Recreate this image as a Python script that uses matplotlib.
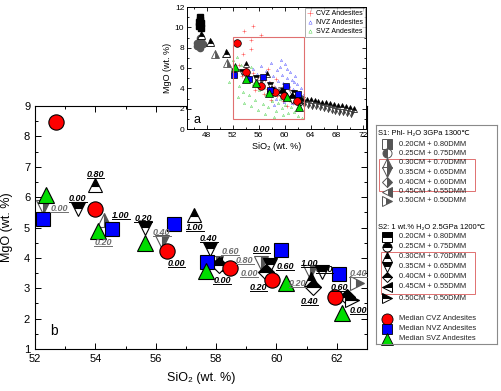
import matplotlib
matplotlib.use('Agg')
import matplotlib.pyplot as plt
from matplotlib.lines import Line2D
from matplotlib.patches import Rectangle
from matplotlib.ticker import MultipleLocator

plt.rcParams['font.family'] = ['Liberation Sans', 'DejaVu Sans']

# ---------------- data ----------------
# median andesites (SiO2, MgO)
cvz_med_x = [52.7, 54.0, 56.37, 58.46, 59.85, 61.93]
cvz_med_y = [8.47, 5.62, 4.22, 3.66, 3.26, 2.71]
nvz_med_x = [52.25, 54.55, 56.6, 57.7, 60.15, 62.07]
nvz_med_y = [5.28, 4.95, 5.11, 3.86, 4.26, 3.47]
svz_med_x = [52.37, 54.1, 55.64, 57.66, 60.3, 62.17]
svz_med_y = [6.07, 4.9, 4.49, 3.57, 3.16, 2.18]

# experiments S1 (Phl-H2O 3GPa 1300C) and S2 (1 wt.% H2O 2.5GPa 1200C)
s1_x = [52.27, 54.3, 56.2, 58.0, 59.5, 61.1, 62.67]
s1_y = [5.67, 5.24, 4.52, 3.83, 3.83, 3.55, 3.17]
s1_mk = ['v', '^', 'v', 'v', 'v', 'v', '>']

s2_x = [53.42, 54.0, 55.64, 57.27, 57.8, 57.95, 58.1, 59.8, 59.65, 61.5, 61.15, 61.2, 62.35, 62.5]
s2_y = [5.6, 6.4, 4.98, 5.41, 4.29, 3.8, 3.76, 3.76, 3.55, 3.53, 3.3, 3.05, 2.72, 2.6]
s2_mk = ['v', '^', 'v', '^', 'v', '<', 'D', 'v', 'D', 'v', '^', 'D', 'D', '>']

# melt-fraction labels: text, x, y, series
lab_txt = ['0.00', '0.00', '0.80', '1.00', '0.20', '0.20', '0.40', '0.00', '1.00', '0.40',
           '0.60', '0.00', '0.80', '0.00', '0.60', '0.00', '0.20', '0.20', '1.00', '0.80',
           '0.40', '0.60', '0.40', '0.00']
lab_x = [52.8, 53.42, 54.0, 54.85, 54.25, 55.58, 56.2, 56.68, 57.3, 57.76,
         58.46, 58.2, 58.95, 59.5, 60.28, 59.09, 59.4, 60.7, 61.1, 61.6,
         61.1, 62.1, 62.7, 62.72]
lab_y = [5.62, 5.97, 6.75, 5.38, 4.5, 5.28, 4.85, 3.8, 5.0, 4.65,
         4.22, 3.24, 3.9, 4.29, 3.73, 3.47, 3.04, 3.17, 3.83, 3.63,
         2.58, 3.04, 3.5, 2.28]
lab_ser = ['S1', 'S2', 'S2', 'S2', 'S1', 'S2', 'S1', 'S2', 'S2', 'S2',
           'S1', 'S2', 'S1', 'S2', 'S2', 'S1', 'S2', 'S1', 'S2', 'S2',
           'S2', 'S2', 'S1', 'S2']

# inset: whole-rock andesite compilations
cvz_x = [52.5, 53.0, 53.4, 53.8, 54.1, 54.5, 54.9, 55.2, 55.6, 55.9, 56.3, 56.6, 57.0, 57.3,
         57.7, 58.0, 58.4, 58.8, 59.1, 59.5, 59.8, 60.2, 60.6, 61.0, 61.3, 61.7, 62.1, 62.5,
         53.6, 54.8, 55.5, 56.8, 57.9, 58.6, 59.9, 60.9, 61.8, 55.1, 57.4, 60.4]
cvz_y = [5.8, 6.3, 5.2, 9.6, 6.0, 4.9, 8.8, 5.5, 4.6, 5.1, 9.2, 4.3, 4.8, 3.9,
         4.5, 3.6, 4.1, 3.2, 3.9, 3.5, 2.8, 3.3, 2.9, 3.1, 2.6, 2.9, 2.4, 2.7,
         7.4, 7.9, 3.8, 3.4, 2.9, 4.9, 4.2, 3.8, 3.3, 10.1, 5.9, 2.3]
nvz_x = [55.2, 55.8, 56.3, 56.9, 57.2, 57.6, 57.9, 58.2, 58.5, 58.8, 59.0, 59.3, 59.6, 59.8,
         60.1, 60.3, 60.6, 60.8, 61.1, 61.3, 61.6, 61.9, 62.2, 62.5, 62.8, 58.0, 59.2, 60.0,
         60.9, 61.7, 57.4, 58.6, 59.9, 61.2, 62.0, 56.5, 60.4, 61.5, 59.5, 58.3]
nvz_y = [5.9, 5.4, 6.2, 5.0, 5.7, 4.6, 6.5, 5.2, 4.1, 5.8, 4.7, 6.1, 5.3, 4.5,
         6.4, 5.0, 4.2, 5.6, 4.8, 3.9, 5.2, 4.4, 3.6, 4.0, 3.3, 3.4, 3.8, 3.2,
         3.0, 3.1, 3.7, 3.0, 2.7, 2.6, 2.9, 4.4, 5.9, 4.6, 6.8, 2.4]
svz_x = [51.5, 52.0, 52.3, 52.7, 53.0, 53.3, 53.6, 53.9, 54.2, 54.5, 54.8, 55.1, 55.4, 55.7,
         56.0, 56.3, 56.6, 56.9, 57.2, 57.5, 57.8, 58.1, 58.4, 58.7, 59.0, 59.3, 59.6, 60.0,
         60.5, 61.0, 61.5, 62.0, 62.6, 52.8, 53.7, 54.9, 55.9, 57.0, 58.3, 59.8]
svz_y = [4.6, 6.8, 5.4, 7.1, 4.2, 6.3, 3.6, 5.7, 4.9, 3.3, 6.1, 4.4, 2.9, 5.2,
         3.8, 4.7, 2.5, 4.1, 3.4, 2.2, 3.9, 2.8, 3.3, 1.8, 2.6, 3.0, 2.1, 2.4,
         1.6, 2.2, 1.7, 1.3, 1.1, 3.1, 2.6, 2.3, 1.9, 1.5, 1.2, 1.4]

# inset: additional experimental melts outside panel b
hi_blk_x = [47.0, 47.0, 47.1, 46.9, 47.2, 46.8]
hi_blk_y = [11.0, 10.7, 10.4, 10.1, 9.9, 10.5]
hi_gry_x = [46.6, 47.0, 47.4, 46.8, 47.2, 47.0, 46.5]
hi_gry_y = [8.2, 8.0, 8.4, 8.6, 8.8, 9.0, 8.5]
hi_tri_x = [47.2, 48.6, 51.0]
hi_tri_y = [9.2, 8.6, 7.5]
hi_gtri_x = [49.3, 51.1]
hi_gtri_y = [7.4, 6.5]
tail_up_x = [62.8, 63.4, 64.0, 64.6, 65.2, 65.8, 66.4, 67.0, 67.6, 68.2, 68.8, 69.4, 70.0, 70.6]
tail_up_y = [3.0, 2.9, 2.85, 2.75, 2.7, 2.6, 2.55, 2.45, 2.4, 2.3, 2.25, 2.15, 2.05, 1.95]
tail_dn_x = [63.0, 63.6, 64.2, 64.8, 65.4, 66.0, 66.6, 67.2, 67.8, 68.4, 69.0, 69.6, 70.2]
tail_dn_y = [2.5, 2.4, 2.3, 2.25, 2.15, 2.05, 1.95, 1.9, 1.8, 1.7, 1.65, 1.55, 1.5]

# legend content
mix_labels = ['0.20CM + 0.80DMM', '0.25CM + 0.75DMM', '0.30CM + 0.70DMM', '0.35CM + 0.65DMM',
              '0.40CM + 0.60DMM', '0.45CM + 0.55DMM', '0.50CM + 0.50DMM']
mix_markers = ['s', 'o', '^', 'v', 'D', '<', '>']
s1_title = 'S1: Phl- H\u2082O 3GPa 1300\u2103'
s2_title = 'S2: 1 wt.% H\u2082O 2.5GPa 1200\u2103'
med_labels = ['Median CVZ Andesites', 'Median NVZ Andesites', 'Median SVZ Andesites']

# ---------------- style ----------------
RED, BLUE, GREEN = '#ff0000', '#0000ff', '#00dd00'
S1C, S2C = '#555555', '#000000'
S1LAB = '#6e6e6e'
BOXRED = '#e07070'
LEGFS = 5.4

fig = plt.figure(figsize=(5.02, 3.91), dpi=100)

# ---------------- main panel b ----------------
ax = fig.add_axes([35/502, 42/391, 332/502, 243/391])
ax.set_xlim(52, 63)
ax.set_ylim(1, 9)
ax.xaxis.set_major_locator(MultipleLocator(2))
ax.xaxis.set_minor_locator(MultipleLocator(1))
ax.yaxis.set_major_locator(MultipleLocator(1))
ax.yaxis.set_minor_locator(MultipleLocator(0.5))
ax.tick_params(which='both', direction='in', top=True, right=True, labelsize=8, width=0.7)
ax.tick_params(which='major', length=4)
ax.tick_params(which='minor', length=2)
for s in ax.spines.values():
    s.set_linewidth(0.8)
ax.set_xlabel('SiO\u2082 (wt. %)', fontsize=9, labelpad=6)
ax.set_ylabel('MgO (wt. %)', fontsize=9, labelpad=8)

for x, y, m in zip(s1_x, s1_y, s1_mk):
    ax.plot(x, y, marker=m, ms=10 if m != 'D' else 8, fillstyle='right', color=S1C,
            markerfacecolor=S1C, markerfacecoloralt='white', markeredgecolor=S1C,
            markeredgewidth=0.8, ls='none', zorder=3)
for x, y, m in zip(s2_x, s2_y, s2_mk):
    ax.plot(x, y, marker=m, ms=10 if m != 'D' else 8, fillstyle='top', color=S2C,
            markerfacecolor=S2C, markerfacecoloralt='white', markeredgecolor=S2C,
            markeredgewidth=0.8, ls='none', zorder=3)

ax.plot(cvz_med_x, cvz_med_y, 'o', ms=11, mfc=RED, mec='black', mew=0.8, ls='none', zorder=5)
ax.plot(nvz_med_x, nvz_med_y, 's', ms=9.5, mfc=BLUE, mec='black', mew=0.8, ls='none', zorder=5)
ax.plot(svz_med_x, svz_med_y, '^', ms=11.5, mfc=GREEN, mec='black', mew=0.8, ls='none', zorder=5)

lab_texts = []
for t, x, y, s in zip(lab_txt, lab_x, lab_y, lab_ser):
    c = S1LAB if s == 'S1' else 'black'
    lab_texts.append(ax.text(x, y, t, fontsize=6.5, fontweight='bold', fontstyle='italic',
                             color=c, ha='center', va='center', zorder=6))

ax.text(52.5, 1.6, 'b', fontsize=10, ha='left', va='center')

# ---------------- inset panel a ----------------
inax = fig.add_axes([187/502, 262/391, 179/502, 122/391], zorder=10)
inax.set_facecolor('white')
inax.set_xlim(45, 72.5)
inax.set_ylim(0, 12)
inax.xaxis.set_major_locator(MultipleLocator(4))
inax.xaxis.set_minor_locator(MultipleLocator(2))
inax.yaxis.set_major_locator(MultipleLocator(2))
inax.yaxis.set_minor_locator(MultipleLocator(1))
inax.tick_params(which='both', direction='in', top=True, right=True, labelsize=6, width=0.6, pad=2)
inax.tick_params(which='major', length=3)
inax.tick_params(which='minor', length=1.5)
for s in inax.spines.values():
    s.set_linewidth(0.7)
inax.set_xlabel('SiO\u2082 (wt. %)', fontsize=6.5, labelpad=2)
inax.set_ylabel('MgO (wt. %)', fontsize=6.5, labelpad=2)

h1, = inax.plot(cvz_x, cvz_y, '+', ms=2.5, mew=0.4, color='#ff5a5a', ls='none', label='CVZ Andesites')
h2, = inax.plot(nvz_x, nvz_y, '^', ms=1.6, mew=0.3, mfc='none', color='#3a3aff', ls='none', label='NVZ Andesites')
h3, = inax.plot(svz_x, svz_y, '^', ms=1.6, mew=0.3, mfc='none', color='#33cc33', ls='none', label='SVZ Andesites')

inax.plot(hi_blk_x, hi_blk_y, 's', ms=4.5, color='black', ls='none', zorder=3)
inax.plot(hi_gry_x, hi_gry_y, 'o', ms=4.5, color='#555555', ls='none', zorder=3)
inax.plot(hi_tri_x, hi_tri_y, '^', ms=6, fillstyle='top', color='black', mfc='black',
          markerfacecoloralt='white', mec='black', mew=0.6, ls='none', zorder=3)
inax.plot(hi_gtri_x, hi_gtri_y, '^', ms=6, fillstyle='right', color=S1C, mfc=S1C,
          markerfacecoloralt='white', mec=S1C, mew=0.6, ls='none', zorder=3)
inax.plot(tail_up_x, tail_up_y, '^', ms=5, fillstyle='top', color='black', mfc='black',
          markerfacecoloralt='white', mec='black', mew=0.5, ls='none', zorder=3)
inax.plot(tail_dn_x, tail_dn_y, 'v', ms=5, fillstyle='right', color='#333333', mfc='#333333',
          markerfacecoloralt='white', mec='#333333', mew=0.5, ls='none', zorder=3)
for x, y, m in zip(s1_x, s1_y, s1_mk):
    inax.plot(x, y, marker=m, ms=5, fillstyle='right', color=S1C, mfc=S1C,
              markerfacecoloralt='white', mec=S1C, mew=0.5, ls='none', zorder=3)
for x, y, m in zip(s2_x, s2_y, s2_mk):
    inax.plot(x, y, marker=m, ms=5, fillstyle='top', color=S2C, mfc=S2C,
              markerfacecoloralt='white', mec=S2C, mew=0.5, ls='none', zorder=3)
inax.plot(cvz_med_x, cvz_med_y, 'o', ms=5.5, mfc=RED, mec='black', mew=0.5, ls='none', zorder=5)
inax.plot(nvz_med_x, nvz_med_y, 's', ms=5, mfc=BLUE, mec='black', mew=0.5, ls='none', zorder=5)
inax.plot(svz_med_x, svz_med_y, '^', ms=6, mfc=GREEN, mec='black', mew=0.5, ls='none', zorder=5)

inax.add_patch(Rectangle((52, 1), 11, 8, fill=False, edgecolor=BOXRED, lw=0.8, zorder=6))
inax.text(46.0, 0.9, 'a', fontsize=9, ha='left', va='center')
leg = inax.legend(handles=[h1, h2, h3], loc='upper right', fontsize=5, frameon=True,
                  fancybox=False, edgecolor='#888888', borderpad=0.3, labelspacing=0.25,
                  handlelength=0.8, handletextpad=0.4, borderaxespad=0.2, markerscale=1.5)
leg.get_frame().set_linewidth(0.6)

# ---------------- legend box ----------------
lg = fig.add_axes([376/502, 47/391, 121/502, 219/391])
lg.set_xlim(0, 121)
lg.set_ylim(219, 0)
lg.set_xticks([])
lg.set_yticks([])
for s in lg.spines.values():
    s.set_color('#8a8a8a')
    s.set_linewidth(0.8)

s1_rows = [19, 28.3, 37.7, 47.3, 57, 66.7, 76]
s2_rows = [112, 122, 132, 142, 152, 162, 173]
med_rows = [194, 204, 214]
lg.text(2, 8, s1_title, fontsize=LEGFS, va='center', ha='left')
lg.text(2, 102, s2_title, fontsize=LEGFS, va='center', ha='left')
for i, (lab, m) in enumerate(zip(mix_labels, mix_markers)):
    fs1 = 'left' if m == 'o' else 'right'
    lg.plot(11, s1_rows[i], marker=m, ms=6.5 if m != 'D' else 5.5, fillstyle=fs1, color=S1C,
            mfc=S1C, markerfacecoloralt='white', mec=S1C, mew=0.7, ls='none', clip_on=False)
    lg.text(23, s1_rows[i], lab, fontsize=LEGFS, va='center', ha='left', color='#222222')
    lg.plot(11, s2_rows[i], marker=m, ms=6.5 if m != 'D' else 5.5, fillstyle='top', color=S2C,
            mfc=S2C, markerfacecoloralt='white', mec=S2C, mew=0.7, ls='none', clip_on=False)
    lg.text(23, s2_rows[i], lab, fontsize=LEGFS, va='center', ha='left', color='#222222')
for r, lab, m, c, ms in zip(med_rows, med_labels, ['o', 's', '^'], [RED, BLUE, GREEN], [8, 7, 8.5]):
    lg.plot(11, r, marker=m, ms=ms, mfc=c, mec='black', mew=0.6, ls='none', clip_on=False)
    lg.text(23, r, lab, fontsize=LEGFS, va='center', ha='left', color='#222222')
lg.add_patch(Rectangle((3, 34), 96, 32, fill=False, edgecolor=BOXRED, lw=0.7))
lg.add_patch(Rectangle((5, 127), 94, 42, fill=False, edgecolor=BOXRED, lw=0.7))

# ---------------- underline the melt-fraction labels ----------------
fig.canvas.draw()
rend = fig.canvas.get_renderer()
inv = fig.transFigure.inverted()
for t in lab_texts:
    bb = t.get_window_extent(rend)
    x0, y0 = inv.transform((bb.x0, bb.y0 + 1))
    x1, _ = inv.transform((bb.x1, bb.y0 + 1))
    fig.add_artist(Line2D([x0, x1], [y0, y0], transform=fig.transFigure,
                          color=t.get_color(), lw=0.7, zorder=6))

fig.savefig('out.png', dpi=100)
